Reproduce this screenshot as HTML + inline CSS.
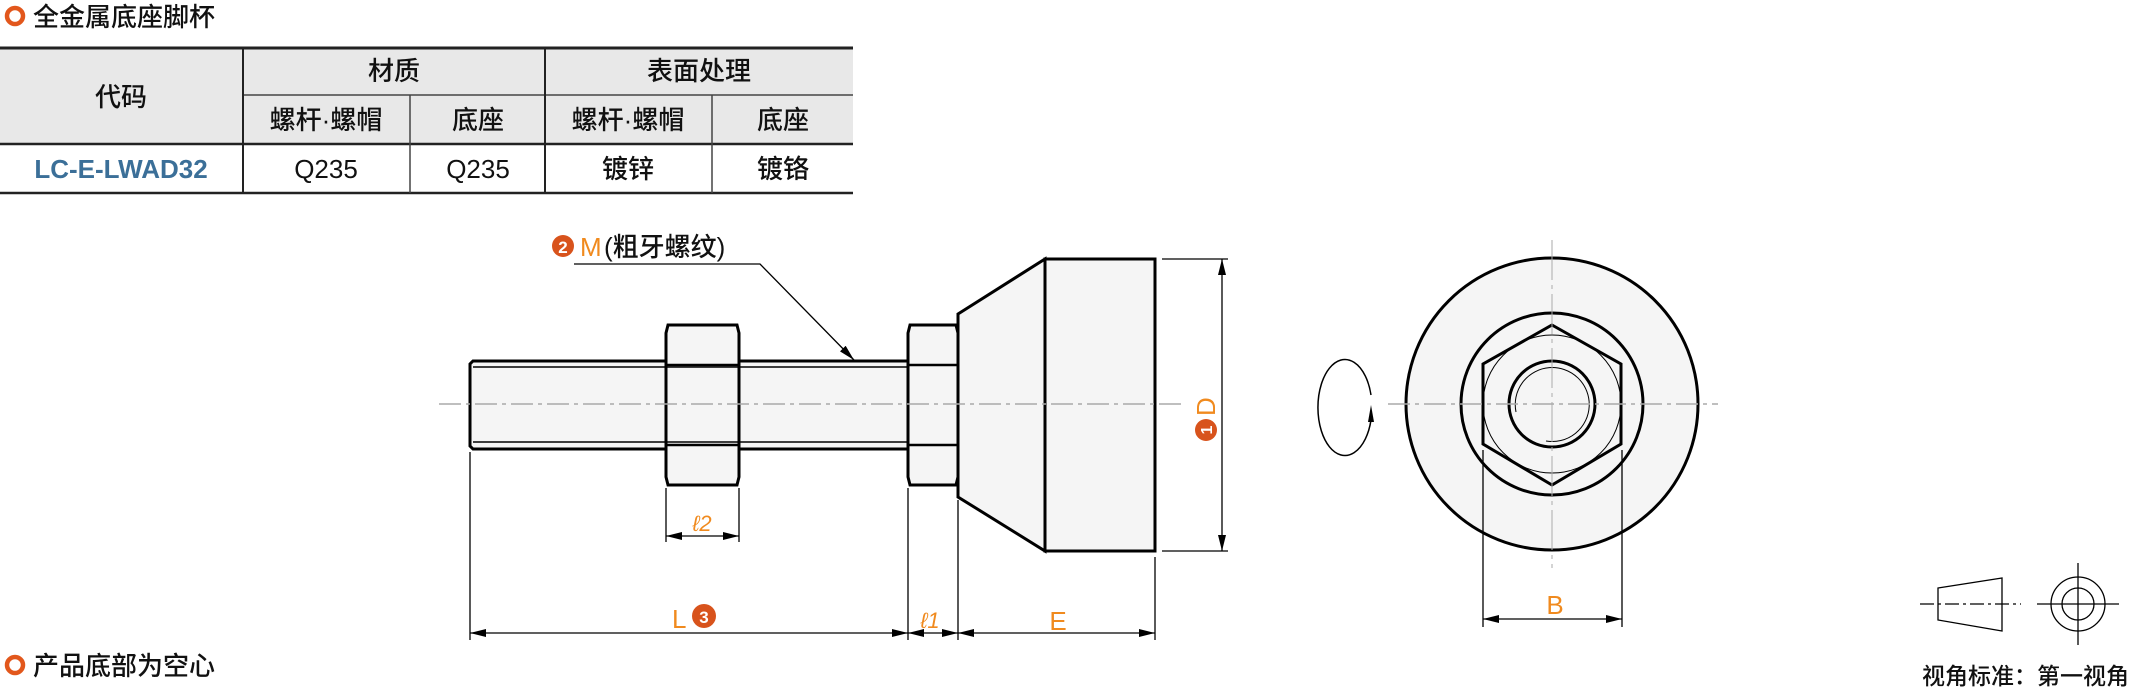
<!DOCTYPE html>
<html><head><meta charset="utf-8"><style>
html,body{margin:0;padding:0;background:#fff;width:2131px;height:692px;overflow:hidden}
svg text{font-family:"Liberation Sans","Noto Sans CJK SC",sans-serif}
</style></head><body>
<svg width="2131" height="692" viewBox="0 0 2131 692" xmlns="http://www.w3.org/2000/svg">
<defs>
<marker id="a" markerWidth="16" markerHeight="8" refX="16" refY="4" orient="auto" markerUnits="userSpaceOnUse"><path d="M0,0 L16,4 L0,8 z" fill="#000"/></marker>
<marker id="b" markerWidth="16" markerHeight="8" refX="0" refY="4" orient="auto" markerUnits="userSpaceOnUse"><path d="M16,0 L0,4 L16,8 z" fill="#000"/></marker>
</defs>
<circle cx="15" cy="16" r="8" fill="none" stroke="#e2571c" stroke-width="4.5"/>
<text x="33" y="26" font-size="26" fill="#111" font-weight="500">全金属底座脚杯</text>
<rect x="0" y="48" width="853" height="96" fill="#e8e8e8"/>
<g stroke="#222" stroke-width="2" fill="none">
<line x1="0" y1="48" x2="853" y2="48" stroke-width="3"/>
<line x1="243" y1="95" x2="853" y2="95" stroke="#444" stroke-width="1.5"/>
<line x1="0" y1="144" x2="853" y2="144" stroke-width="2.5"/>
<line x1="0" y1="193" x2="853" y2="193" stroke-width="2.5"/>
<line x1="243" y1="48" x2="243" y2="193"/>
<line x1="545" y1="48" x2="545" y2="193"/>
<line x1="410" y1="95" x2="410" y2="193" stroke="#444" stroke-width="1.5"/>
<line x1="712" y1="95" x2="712" y2="193" stroke="#444" stroke-width="1.5"/>
</g>
<g font-size="26" fill="#111" text-anchor="middle" font-weight="500">
<text x="121" y="106">代码</text>
<text x="394" y="80">材质</text>
<text x="699" y="80">表面处理</text>
<text x="326" y="129">螺杆·螺帽</text>
<text x="478" y="129">底座</text>
<text x="628" y="129">螺杆·螺帽</text>
<text x="783" y="129">底座</text>
<text x="121" y="178" fill="#3b6f98" font-weight="bold">LC-E-LWAD32</text>
<text x="326" y="178">Q235</text>
<text x="478" y="178">Q235</text>
<text x="628" y="178">镀锌</text>
<text x="783" y="178">镀铬</text>
</g>
<g stroke="#000" stroke-width="3" fill="#f5f5f5">
<path d="M473,361 L908,361 L908,449 L473,449 L470,446 L470,364 Z"/>
<path d="M1045,259 L1155,259 L1155,551 L1045,551 Z"/>
<path d="M958,314 L1045,259 L1045,551 L958,497 Z"/>
<path d="M668,325 L737,325 L739,333 L739,477 L737,485 L668,485 L666,477 L666,333 Z"/>
<path d="M910,325 L956,325 L958,333 L958,477 L956,485 L910,485 L908,477 L908,333 Z"/>
</g>
<g stroke="#000" stroke-width="1.5">
<line x1="473" y1="367" x2="908" y2="367"/>
<line x1="473" y1="442" x2="908" y2="442"/>
<line x1="666" y1="365" x2="739" y2="365" stroke-width="2.5"/>
<line x1="666" y1="445" x2="739" y2="445" stroke-width="2.5"/>
<line x1="908" y1="365" x2="958" y2="365" stroke-width="2.5"/>
<line x1="908" y1="445" x2="958" y2="445" stroke-width="2.5"/>
</g>
<line x1="439" y1="404" x2="1186" y2="404" stroke="#aaa" stroke-width="1.5" stroke-dasharray="22,5,4,5"/>
<circle cx="563" cy="246" r="11" fill="#d8531c"/>
<text x="563" y="253" font-size="17" font-weight="bold" fill="#fff" text-anchor="middle">2</text>
<text x="580" y="256" font-size="26" fill="#f08a1e">M</text>
<text x="604" y="256" font-size="26" fill="#111" font-weight="500">(粗牙螺纹)</text>
<polyline points="574,264 760,264 854,360" fill="none" stroke="#000" stroke-width="1.3" marker-end="url(#a)"/>
<g stroke="#000" stroke-width="1.3">
<line x1="1162" y1="259" x2="1228" y2="259"/>
<line x1="1162" y1="551" x2="1228" y2="551"/>
<line x1="1222" y1="259" x2="1222" y2="551" marker-start="url(#b)" marker-end="url(#a)"/>
</g>
<g transform="translate(1213,418) rotate(-90)">
<circle cx="-12" cy="-7" r="11" fill="#d8531c"/>
<text x="-12" y="-1" font-size="16" font-weight="bold" fill="#fff" text-anchor="middle">1</text>
<text x="2" y="2" font-size="26" fill="#f08a1e">D</text>
</g>
<g stroke="#000" stroke-width="1.3">
<line x1="666" y1="488" x2="666" y2="542"/>
<line x1="739" y1="488" x2="739" y2="542"/>
<line x1="666" y1="536" x2="739" y2="536" marker-start="url(#b)" marker-end="url(#a)"/>
</g>
<text x="702" y="531" font-size="22" font-style="italic" fill="#f08a1e" text-anchor="middle">ℓ2</text>
<g stroke="#000" stroke-width="1.3">
<line x1="470" y1="452" x2="470" y2="640"/>
<line x1="908" y1="488" x2="908" y2="640"/>
<line x1="958" y1="500" x2="958" y2="640"/>
<line x1="1155" y1="557" x2="1155" y2="640"/>
<line x1="470" y1="633" x2="908" y2="633" marker-start="url(#b)" marker-end="url(#a)"/>
<line x1="908" y1="633" x2="958" y2="633" marker-start="url(#b)" marker-end="url(#a)"/>
<line x1="958" y1="633" x2="1155" y2="633" marker-start="url(#b)" marker-end="url(#a)"/>
</g>
<text x="672" y="628" font-size="26" fill="#f08a1e">L</text>
<circle cx="704" cy="616" r="12" fill="#d8531c"/>
<text x="704" y="623" font-size="17" font-weight="bold" fill="#fff" text-anchor="middle">3</text>
<text x="930" y="628" font-size="22" font-style="italic" fill="#f08a1e" text-anchor="middle">ℓ1</text>
<text x="1058" y="630" font-size="26" fill="#f08a1e" text-anchor="middle">E</text>
<circle cx="1552" cy="404" r="146" fill="#f5f5f5" stroke="#000" stroke-width="3"/>
<circle cx="1552" cy="404" r="91" fill="none" stroke="#000" stroke-width="3"/>
<polygon points="1552,325 1621,364 1621,444 1552,485 1483,444 1483,364" fill="none" stroke="#000" stroke-width="3"/>
<circle cx="1552" cy="404" r="69" fill="none" stroke="#000" stroke-width="1"/>
<circle cx="1552" cy="404" r="43" fill="none" stroke="#000" stroke-width="3"/>
<path d="M1516,412 A37,37 0 1 1 1546,441" fill="none" stroke="#000" stroke-width="1"/>
<line x1="1388" y1="404" x2="1718" y2="404" stroke="#aaa" stroke-width="1.5" stroke-dasharray="22,5,4,5"/>
<line x1="1552" y1="240" x2="1552" y2="568" stroke="#aaa" stroke-width="1" stroke-dasharray="40,5,4,5"/>
<g stroke="#000" stroke-width="1.3">
<line x1="1483" y1="450" x2="1483" y2="627"/>
<line x1="1622" y1="450" x2="1622" y2="627"/>
<line x1="1483" y1="619" x2="1622" y2="619" marker-start="url(#b)" marker-end="url(#a)"/>
</g>
<text x="1555" y="614" font-size="26" fill="#f08a1e" text-anchor="middle">B</text>
<path d="M1371,395 A27,48 0 1 0 1371,420" fill="none" stroke="#000" stroke-width="1.5"/>
<path d="M1368,422 L1371,405 L1374,422 Z" fill="#000"/>
<g stroke="#000" stroke-width="1.3" fill="none">
<polygon points="1938,588 2002,578 2002,631 1938,620"/>
<line x1="1920" y1="604" x2="2021" y2="604" stroke-dasharray="14,4,3,4"/>
<circle cx="2078" cy="604" r="27"/>
<circle cx="2078" cy="604" r="16"/>
<line x1="2078" y1="563" x2="2078" y2="645"/>
<line x1="2037" y1="604" x2="2119" y2="604"/>
</g>
<text x="2129" y="684" font-size="23" fill="#111" text-anchor="end" font-weight="500">视角标准：第一视角</text>
<circle cx="15" cy="665" r="8" fill="none" stroke="#e2571c" stroke-width="4.5"/>
<text x="33" y="675" font-size="26" fill="#111" font-weight="500">产品底部为空心</text>
</svg>
</body></html>
